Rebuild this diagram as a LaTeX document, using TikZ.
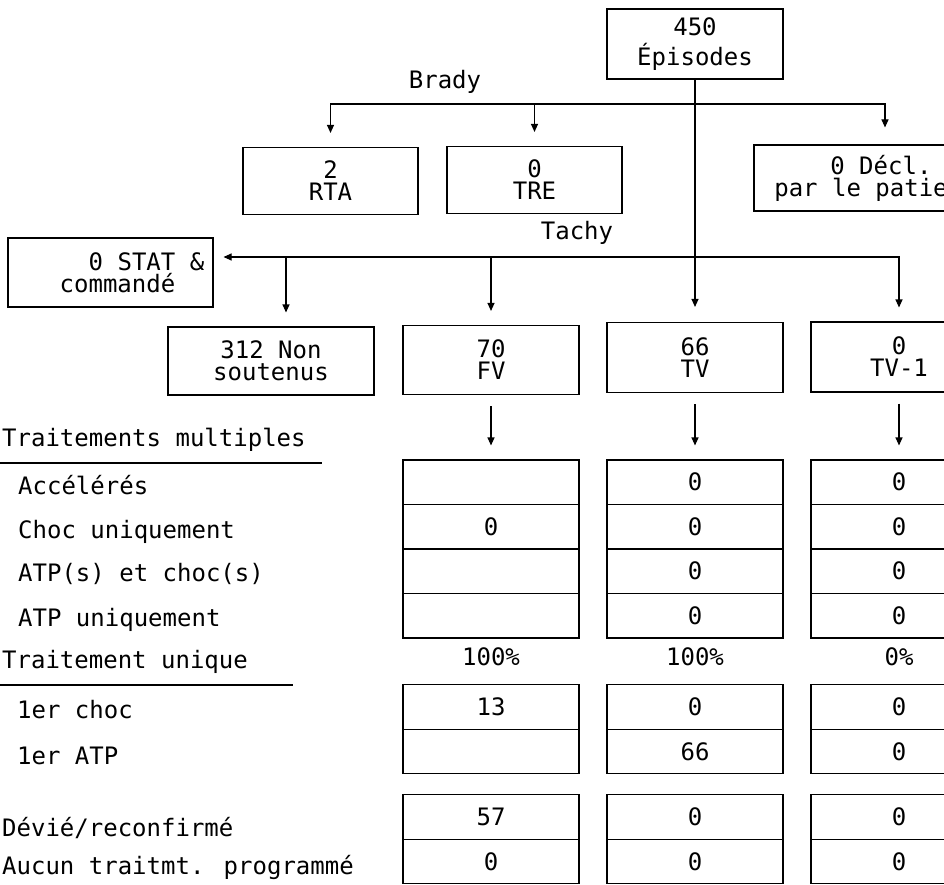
\documentclass[tikz,border=0pt]{standalone}
\usepackage{fontspec}
\setmainfont{DejaVu Sans Mono}[WordSpace={1,0,0}]
\usetikzlibrary{arrows.meta}

\begin{document}
\begin{tikzpicture}[
      x=1pt,y=-1pt,
      dep/.style={-{Triangle[length=8pt,width=7pt]},draw=black,line width=1.1pt},
      box/.style={draw=black,line width=1.1pt,align=center,inner sep=0pt,
        font=\fontsize{24}{22}\selectfont},
      cell/.style={draw=black,line width=1.1pt,minimum width=176pt,minimum height=44.5pt,
        inner sep=0pt,font=\fontsize{24}{22}\selectfont},
      lbl/.style={anchor=west,inner sep=0pt,font=\fontsize{24}{22}\selectfont,
        text height=17pt,text depth=5pt},
      tag/.style={inner sep=0pt,font=\fontsize{24}{22}\selectfont}]
    \useasboundingbox (0,0) rectangle (944,885);
    \clip (0,0) rectangle (944,885);

    \node[box,minimum width=176pt,minimum height=70pt,font=\fontsize{24}{30}\selectfont] (ep) at (695,44) {450\\Épisodes};
    \node[tag] (bradytxt) at (445,82) {Brady};
    \node[box,minimum width=175pt,minimum height=67pt] (rta) at (330.5,181) {2\\RTA};
    \node[box,minimum width=175pt,minimum height=67pt] (tre) at (534.5,180) {0\\TRE};
    \node[box,minimum width=262pt,minimum height=66pt,align=left] (decl) at (885,178) {\hspace*{56pt}0 Décl.\\par le patie\hspace*{48pt}};
    \node[tag] (tachytxt) at (577,233) {Tachy};
    \node[box,minimum width=205pt,minimum height=69pt,align=left] (stat) at (110.5,272.5) {\hspace*{72pt}0 STAT \&\\\hspace*{43pt}commandé};
    \node[box,minimum width=206pt,minimum height=68pt] (nonsout) at (271,361) {312 Non\\soutenus};
    \node[box,minimum width=176pt,minimum height=69pt] (fv) at (491,360) {70\\FV};
    \node[box,minimum width=176pt,minimum height=70pt] (tv) at (695,357.5) {66\\TV};
    \node[box,minimum width=176pt,minimum height=70pt] (tvone) at (899,357) {0\\TV-1};

    \coordinate (bjoin) at (695,104);
    \coordinate (tjoin) at (695,257);

    % row labels
    \node[lbl] (hmult) at (2,440) {Traitements multiples};
    \node[lbl] (accel) at (18,488) {Accélérés};
    \node[lbl] (choc) at (18,532) {Choc uniquement};
    \node[lbl] (atpchoc) at (18,575) {ATP(s) et choc(s)};
    \node[lbl] (atp) at (18,620) {ATP uniquement};
    \node[lbl] (huniq) at (2,662) {Traitement unique};
    \node[lbl] (prchoc) at (17,712) {1er choc};
    \node[lbl] (pratp) at (17,758) {1er ATP};
    \node[lbl] (devie) at (2,830) {Dévié/reconfirmé};
    \node[lbl] (aucun) at (2,868) {Aucun traitmt. programmé};
    \draw[line width=1.1pt] (0,463) -- (322,463);
    \draw[line width=1.1pt] (0,685) -- (293,685);

    % FV column
    \node[cell] (fvm1) at (491,482.25) {};
    \node[cell] (fvm2) at (491,526.75) {0};
    \node[cell] (fvm3) at (491,571.25) {};
    \node[cell] (fvm4) at (491,615.75) {};
    \node[tag] (fvpct) at (491,657) {100\%};
    \node[cell] (fvu1) at (491,707) {13};
    \node[cell] (fvu2) at (491,751.5) {};
    \node[cell] (fvd1) at (491,817) {57};
    \node[cell] (fvd2) at (491,861.5) {0};

    % TV column
    \node[cell] (tvm1) at (695,482.25) {0};
    \node[cell] (tvm2) at (695,526.75) {0};
    \node[cell] (tvm3) at (695,571.25) {0};
    \node[cell] (tvm4) at (695,615.75) {0};
    \node[tag] (tvpct) at (695,657) {100\%};
    \node[cell] (tvu1) at (695,707) {0};
    \node[cell] (tvu2) at (695,751.5) {66};
    \node[cell] (tvd1) at (695,817) {0};
    \node[cell] (tvd2) at (695,861.5) {0};

    % TV-1 column
    \node[cell] (tvonem1) at (899,482.25) {0};
    \node[cell] (tvonem2) at (899,526.75) {0};
    \node[cell] (tvonem3) at (899,571.25) {0};
    \node[cell] (tvonem4) at (899,615.75) {0};
    \node[tag] (tvonepct) at (899,657) {0\%};
    \node[cell] (tvoneu1) at (899,707) {0};
    \node[cell] (tvoneu2) at (899,751.5) {0};
    \node[cell] (tvoned1) at (899,817) {0};
    \node[cell] (tvoned2) at (899,861.5) {0};

    \draw[dep,shorten >=15pt] (ep) -- (tv);
    \draw[dep,shorten >=14pt] (bjoin) -| (rta);
    \draw[dep,shorten >=14pt] (bjoin) -| (tre);
    \draw[dep,shorten >=17pt] (bjoin) -| (decl);
    \draw[dep,shorten >=10pt] (tjoin) -- (tjoin -| stat.east);
    \draw[dep,shorten >=14pt] (tjoin) -| ([xshift=15pt]nonsout.north);
    \draw[dep,shorten >=14pt] (tjoin) -| (fv);
    \draw[dep,shorten >=14pt] (tjoin) -| (tvone);
    \draw[dep,shorten <=11pt,shorten >=14pt] (fv) -- (fvm1);
    \draw[dep,shorten <=11pt,shorten >=14pt] (tv) -- (tvm1);
    \draw[dep,shorten <=11pt,shorten >=14pt] (tvone) -- (tvonem1);
  \end{tikzpicture}
\end{document}
